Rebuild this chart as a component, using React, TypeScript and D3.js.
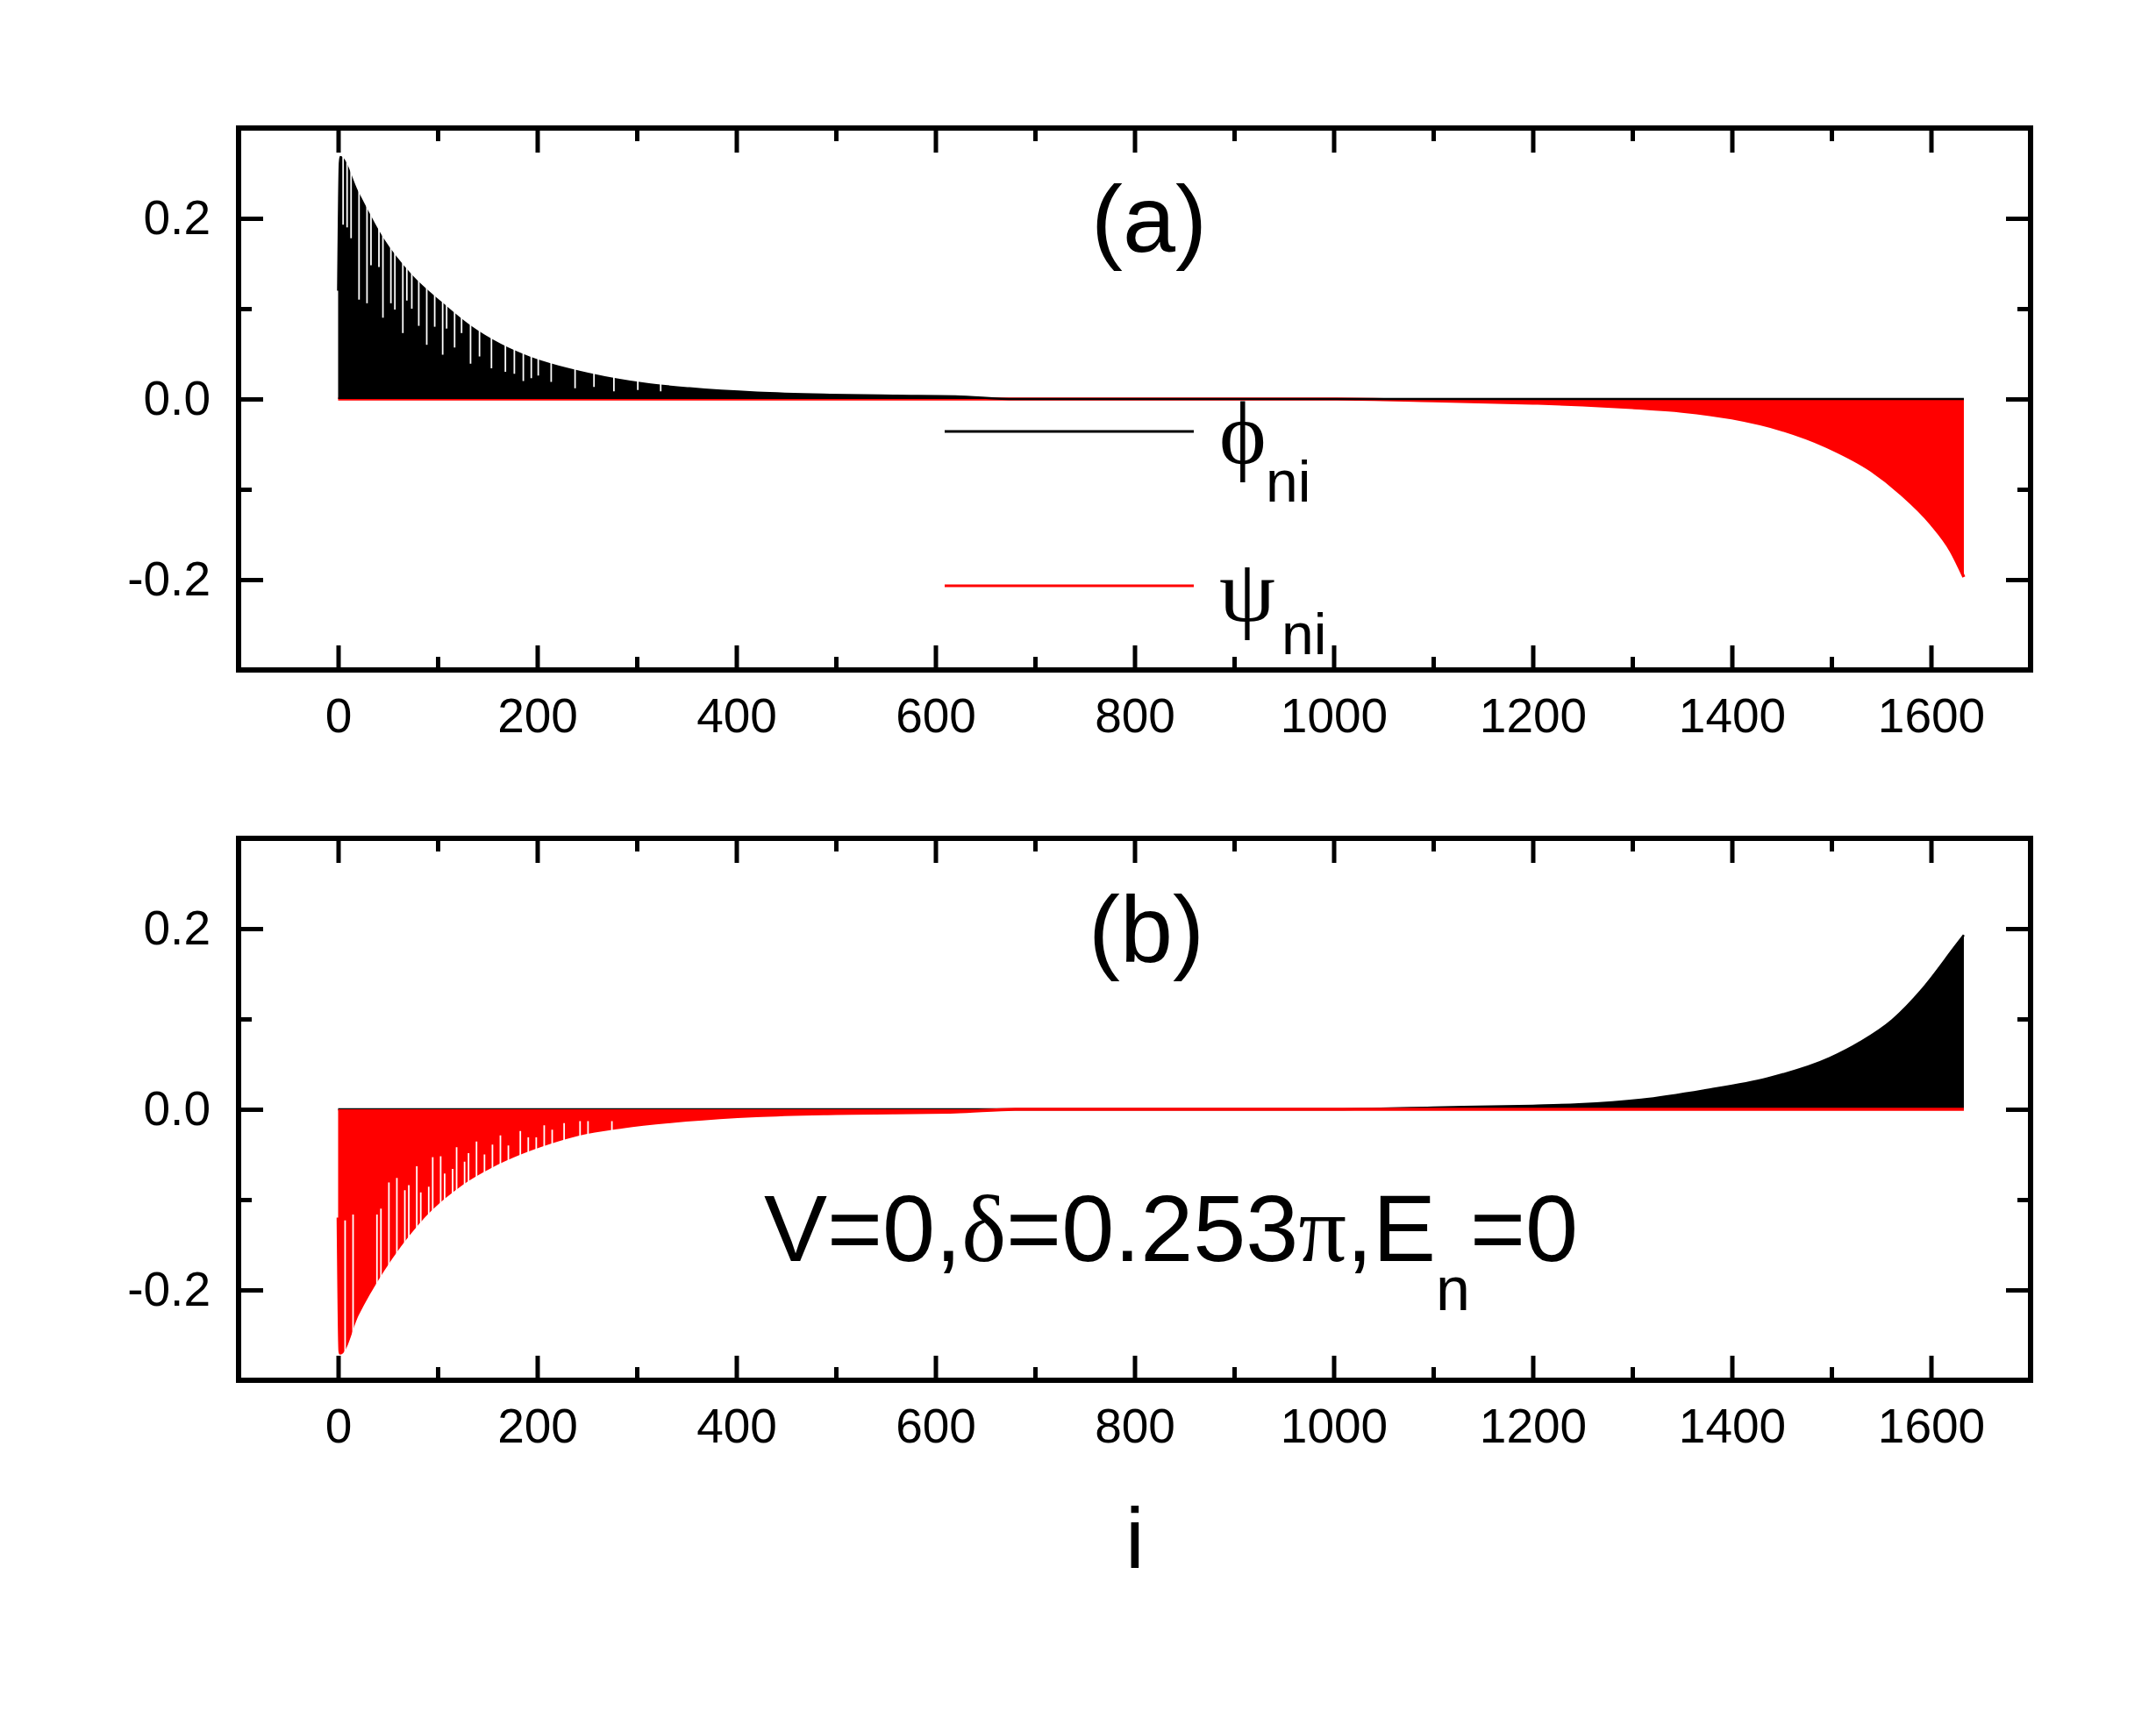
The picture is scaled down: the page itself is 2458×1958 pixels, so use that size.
import { useEffect, useRef } from 'react'
import * as d3 from 'd3'

const SANS = '"Liberation Sans", Arial, Helvetica, sans-serif'
const SERIF = '"Liberation Serif", "DejaVu Serif", "Times New Roman", serif'

const svgWidth = 2458
const svgHeight = 1958

// axes
const xDomain = [-100, 1700]
const yDomain = [-0.3, 0.3]
const xMajorTicks = [0, 200, 400, 600, 800, 1000, 1200, 1400, 1600]
const xMinorTicks = [100, 300, 500, 700, 900, 1100, 1300, 1500]
const yMajorTicks = [-0.2, 0, 0.2]
const yMinorTicks = [-0.1, 0.1]

// panel (a): envelope of phi_ni (black) and psi_ni (red)
const phiA_i = [0, 2, 19, 45, 74, 104, 133, 163, 192, 221, 251, 280, 309, 353, 421, 494, 560, 620, 680, 1633]
const phiA_v = [0.12, 0.268, 0.23, 0.177, 0.136, 0.106, 0.08, 0.06, 0.046, 0.036, 0.028, 0.0216, 0.0167, 0.0118, 0.007, 0.0047, 0.0037, 0.003, 0, 0]
const psiA_i = [0, 1000, 1100, 1200, 1250, 1300, 1350, 1400, 1450, 1500, 1540, 1570, 1600, 1620, 1633]
const psiA_v = [0, 0, -0.002, -0.0045, -0.0065, -0.0095, -0.0135, -0.021, -0.034, -0.055, -0.079, -0.105, -0.138, -0.168, -0.197]
// sites where phi_ni dips (white gaps inside the black band), and how low it goes
const phiA_dip_i = [5, 9, 13, 21, 29, 33, 41, 45, 53, 57, 65, 69, 74, 81, 89, 97, 105, 109, 117, 124, 133, 142, 154, 168, 177, 186, 194, 201, 214, 238, 257, 277, 301, 324]
const phiA_dip_v = [0.193, 0.19, 0.178, 0.11, 0.106, 0.148, 0.146, 0.09, 0.106, 0.099, 0.073, 0.109, 0.1, 0.081, 0.06, 0.08, 0.049, 0.078, 0.057, 0.073, 0.039, 0.047, 0.034, 0.03, 0.028, 0.02, 0.023, 0.026, 0.019, 0.012, 0.0134, 0.0085, 0.0099, 0.0085]

// panel (b)
const phiB_i = [0, 1000, 1100, 1200, 1246, 1309, 1372, 1435, 1498, 1529, 1561, 1592, 1624, 1633]
const phiB_v = [0, 0, 0.002, 0.004, 0.0055, 0.0107, 0.021, 0.034, 0.0566, 0.0744, 0.0987, 0.134, 0.18, 0.193]
const psiB_i = [0, 2, 19, 45, 80, 124, 154, 183, 212, 242, 286, 350, 420, 500, 620, 680, 1633]
const psiB_v = [-0.12, -0.27, -0.228, -0.178, -0.126, -0.0825, -0.063, -0.0485, -0.037, -0.0275, -0.0194, -0.012, -0.007, -0.0045, -0.003, 0, 0]
const psiB_dip_i = [7, 15, 39, 43, 51, 59, 67, 71, 79, 83, 91, 95, 103, 107, 115, 119, 127, 131, 139, 147, 155, 163, 171, 183, 191, 199, 207, 215, 227, 243, 251, 275]
const psiB_dip_v = [-0.123, -0.1165, -0.1165, -0.11, -0.081, -0.076, -0.0896, -0.084, -0.063, -0.092, -0.0857, -0.053, -0.052, -0.071, -0.066, -0.042, -0.058, -0.0485, -0.0356, -0.05, -0.039, -0.029, -0.04, -0.024, -0.031, -0.031, -0.0178, -0.0226, -0.0152, -0.013, -0.013, -0.013]

const BLACK = '#000000'
const RED = '#ff0000'

export default function App() {
  const svgRef = useRef<SVGSVGElement>(null)

  useEffect(() => {
    const svg = d3.select(svgRef.current)
    svg.selectAll('*').remove()

    const left = 272
    const right = 2315
    const x = d3.scaleLinear().domain(xDomain).range([left, right])

    const drawPanel = (top, bottom, layers) => {
      const y = d3.scaleLinear().domain(yDomain).range([bottom, top])
      const g = svg.append('g')

      layers.forEach(({ idx, vals, color, width, dipI, dipV }) => {
        const pts = idx.map((d, k) => [d, vals[k]])
        const area = d3.area()
          .x(d => x(d[0]))
          .y0(y(0))
          .y1(d => y(d[1]))
          .curve(d3.curveMonotoneX)
        const line = d3.line()
          .x(d => x(d[0]))
          .y(d => y(d[1]))
          .curve(d3.curveMonotoneX)
        g.append('path').attr('d', area(pts)).attr('fill', color)
        g.append('path')
          .attr('d', line(pts))
          .attr('fill', 'none')
          .attr('stroke', color)
          .attr('stroke-width', width)

        // the thin white notches of the oscillating series
        if (dipI) {
          const far = dipV[0] > 0 ? yDomain[1] : yDomain[0]
          g.append('g')
            .selectAll('line')
            .data(dipI.map((d, k) => [d, dipV[k]]))
            .enter().append('line')
            .attr('x1', d => x(d[0]))
            .attr('x2', d => x(d[0]))
            .attr('y1', d => y(d[1]))
            .attr('y2', y(far))
            .attr('stroke', '#ffffff')
            .attr('stroke-width', 1.8)
        }
      })

      const addAxis = (gen, transform, size, format) => {
        const a = g.append('g')
          .attr('transform', transform)
          .call(gen.tickSize(-size).tickSizeOuter(0).tickPadding(32).tickFormat(format || (() => '')))
        a.select('.domain').remove()
        a.selectAll('line').attr('stroke', BLACK).attr('stroke-width', 5)
        a.selectAll('text')
          .attr('font-family', SANS)
          .attr('font-size', 55)
          .attr('fill', BLACK)
      }

      addAxis(d3.axisBottom(x).tickValues(xMajorTicks), `translate(0,${bottom})`, 28, d => String(d))
      addAxis(d3.axisBottom(x).tickValues(xMinorTicks), `translate(0,${bottom})`, 15, null)
      addAxis(d3.axisTop(x).tickValues(xMajorTicks), `translate(0,${top})`, 28, null)
      addAxis(d3.axisTop(x).tickValues(xMinorTicks), `translate(0,${top})`, 15, null)
      addAxis(d3.axisLeft(y).tickValues(yMajorTicks), `translate(${left},0)`, 28, d => d.toFixed(1))
      addAxis(d3.axisLeft(y).tickValues(yMinorTicks), `translate(${left},0)`, 15, null)
      addAxis(d3.axisRight(y).tickValues(yMajorTicks), `translate(${right},0)`, 28, null)
      addAxis(d3.axisRight(y).tickValues(yMinorTicks), `translate(${right},0)`, 15, null)

      g.append('rect')
        .attr('x', left)
        .attr('y', top)
        .attr('width', right - left)
        .attr('height', bottom - top)
        .attr('fill', 'none')
        .attr('stroke', BLACK)
        .attr('stroke-width', 6)

      return g
    }

    // (a)
    const ga = drawPanel(146, 764, [
      { idx: psiA_i, vals: psiA_v, color: RED, width: 3.5 },
      { idx: phiA_i, vals: phiA_v, color: BLACK, width: 2.5, dipI: phiA_dip_i, dipV: phiA_dip_v }
    ])
    ga.append('text')
      .attr('x', 1310).attr('y', 287)
      .attr('text-anchor', 'middle')
      .attr('font-family', SANS).attr('font-size', 108)
      .text('(a)')

    // legend
    const legend = [
      { color: BLACK, y: 492, sym: '\u03D5', symY: 528, subX: 1443, subY: 572 },
      { color: RED, y: 668, sym: '\u03C8', symY: 708, subX: 1461, subY: 746 }
    ]
    legend.forEach(l => {
      ga.append('line')
        .attr('x1', 1077).attr('x2', 1361)
        .attr('y1', l.y).attr('y2', l.y)
        .attr('stroke', l.color).attr('stroke-width', 3)
      ga.append('text')
        .attr('x', 1390).attr('y', l.symY)
        .attr('font-family', SERIF).attr('font-size', 102)
        .text(l.sym)
      ga.append('text')
        .attr('x', l.subX).attr('y', l.subY)
        .attr('font-family', SANS).attr('font-size', 66)
        .text('ni')
    })

    // (b)
    const gb = drawPanel(956, 1574, [
      { idx: phiB_i, vals: phiB_v, color: BLACK, width: 2.5 },
      { idx: psiB_i, vals: psiB_v, color: RED, width: 3.5, dipI: psiB_dip_i, dipV: psiB_dip_v }
    ])
    gb.append('text')
      .attr('x', 1307).attr('y', 1097)
      .attr('text-anchor', 'middle')
      .attr('font-family', SANS).attr('font-size', 108)
      .text('(b)')

    const note = gb.append('text')
      .attr('x', 871).attr('y', 1438)
      .attr('font-family', SANS).attr('font-size', 108)
    note.append('tspan').text('V=0,')
    note.append('tspan').attr('font-family', SERIF).text('\u03B4')
    note.append('tspan').text('=0.253')
    note.append('tspan').attr('font-family', SERIF).text('\u03C0')
    note.append('tspan').text(',E')
    note.append('tspan').attr('font-size', 70).attr('dy', 56).text('n')
    note.append('tspan').attr('dy', -56).text('=0')

    // x axis title
    svg.append('text')
      .attr('x', 1294).attr('y', 1788)
      .attr('text-anchor', 'middle')
      .attr('font-family', SANS).attr('font-size', 98)
      .text('i')
  }, [])

  return (
    <svg
      ref={svgRef}
      width={svgWidth}
      height={svgHeight}
      viewBox={`0 0 ${svgWidth} ${svgHeight}`}
      style={{ position: 'absolute', left: 0, top: 0, background: '#ffffff', display: 'block' }}
    />
  )
}
